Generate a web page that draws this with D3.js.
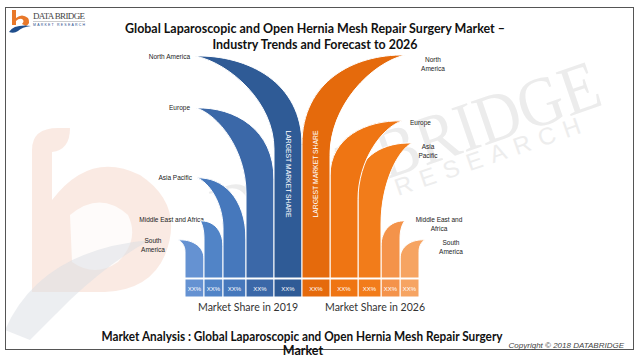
<!DOCTYPE html>
<html>
<head>
<meta charset="utf-8">
<script src="https://cdn.jsdelivr.net/npm/d3@7"></script>
<style>
  body { margin: 0; background: #fff; }
  #chart { width: 640px; height: 360px; }
</style>
</head>
<body>
<div id="chart"></div>
<script>
// Data (order: South America -> North America, bars grow toward the centre)
const regions = ["South America", "Middle East and Africa", "Asia Pacific", "Europe", "North America"];
const share2019 = ["XX%", "XX%", "XX%", "XX%", "XX%"];
const share2026 = ["XX%", "XX%", "XX%", "XX%", "XX%"];
const peak2019 = [16.7, 25, 43.9, 74.6, 97.4];
const peak2026 = [16.7, 25, 59.2, 68.9, 97.8];
const leftLabels = [["South", "America"], ["Middle East and Africa"], ["Asia Pacific"], ["Europe"], ["North America"]];
const rightLabels = [["South", "America"], ["Middle East and", "Africa"], ["Asia", "Pacific"], ["Europe"], ["North", "America"]];
const yearLabels = ["Market Share in 2019", "Market Share in 2026"];

const blues = ["#6592d2", "#5184c7", "#4678bc", "#3b68a8", "#2f5b96"];
const oranges = ["#f6a462", "#f4934a", "#f27c1a", "#ef7513", "#e56a0c"];

// layout for the curved "leaf" shapes
const colW = [19, 19, 23, 28, 28];
const centre = 302;
const blueTip = [178, 200, 197, 196, 195];
const orangeTip = [425, 405, 412, 402, 405];
const blueBend = { outer: [0.5, 0.45, 0.62, 0.42, 0.4], inner: [0.3, 0.3, 0.5, 0.5, 0.42] };
const orangeBend = { outer: [0.5, 0.45, 0.3, 0.35, 0.4], inner: [0.3, 0.3, 0.6, 0.5, 0.45] };
const leftLabelPos = [
  { dx: -25, dy: 3, anchor: "middle" },
  { dx: 4, dy: 1, anchor: "end" },
  { dx: -5, dy: 2, anchor: "end" },
  { dx: -6, dy: 2, anchor: "end" },
  { dx: -5, dy: 3, anchor: "end" }
];
const rightLabelPos = [
  { dx: 26, dy: 5, anchor: "middle" },
  { dx: 34, dy: 1, anchor: "middle" },
  { dx: 16, dy: 6, anchor: "middle" },
  { dx: 8, dy: 4, anchor: "start" },
  { dx: 28, dy: 7, anchor: "middle" }
];

const svg = d3.select("#chart").append("svg")
  .attr("width", 640)
  .attr("height", 360);

svg.append("rect").attr("width", 640).attr("height", 360).attr("fill", "#fff");

// ---- watermark ----
const wm = svg.append("g");
wm.append("path")
  .attr("d", "M32,292 L32,150 Q32,128 58,128 L70,128 Q70,150 52,152 L52,200 Q90,150 140,175 Q185,205 165,255 Q150,290 105,292 Z")
  .attr("fill", "#f3c7b5").attr("opacity", 0.38);
wm.append("path")
  .attr("d", "M70,215 Q100,190 128,215 Q140,240 118,262 Q95,278 72,262 Z")
  .attr("fill", "#fff").attr("opacity", 0.8);
wm.append("path")
  .attr("d", "M5,330 Q40,250 150,240 Q110,262 70,300 Q45,325 30,340 Z")
  .attr("fill", "#d9dde3").attr("opacity", 0.5);
wm.append("text")
  .attr("transform", "translate(222,236) rotate(-19)")
  .attr("font-family", "Liberation Serif")
  .attr("font-size", 70)
  .attr("textLength", 405)
  .attr("lengthAdjust", "spacingAndGlyphs")
  .attr("fill", "#ececec")
  .text("DATA BRIDGE");
wm.append("text")
  .attr("transform", "translate(398,196) rotate(-19)")
  .attr("font-family", "Liberation Sans")
  .attr("font-size", 24)
  .attr("textLength", 195)
  .attr("lengthAdjust", "spacing")
  .attr("fill", "#ededed")
  .text("RESEARCH");

// ---- frame ----
svg.append("rect")
  .attr("x", 5.5).attr("y", 7.5)
  .attr("width", 628).attr("height", 342)
  .attr("fill", "none")
  .attr("stroke", "#555")
  .attr("stroke-width", 1);

// ---- small logo ----
const logo = svg.append("g");
logo.append("rect").attr("x", 12).attr("y", 10).attr("width", 4).attr("height", 15).attr("fill", "#e8782a");
logo.append("path").attr("d", "M16,18 Q22,13 28,18 Q31,23 26,26 L22,24 Q25,21 22,19 Q19,18 16,21 Z").attr("fill", "#e8782a");
logo.append("path").attr("d", "M9,32 Q14,24 31,26 Q22,27 18,31 Q14,34 9,32 Z").attr("fill", "#1f4e8c");
logo.append("text")
  .attr("x", 33).attr("y", 19)
  .attr("font-family", "Liberation Serif")
  .attr("font-size", 9)
  .attr("fill", "#444")
  .attr("textLength", 52)
  .text("DATA BRIDGE");
logo.append("line").attr("x1", 33).attr("x2", 85).attr("y1", 21.5).attr("y2", 21.5).attr("stroke", "#999").attr("stroke-width", 0.5);
logo.append("text")
  .attr("x", 33).attr("y", 26)
  .attr("font-family", "Liberation Sans")
  .attr("font-size", 3.5)
  .attr("fill", "#1f4e8c")
  .attr("textLength", 52)
  .text("MARKET RESEARCH");

// ---- title ----
const title = svg.append("g")
  .attr("font-family", "Lato")
  .attr("font-weight", "bold")
  .attr("font-size", 13)
  .attr("fill", "#111")
  .attr("text-anchor", "middle");
title.append("text").attr("x", 315).attr("y", 33)
  .attr("textLength", 380).attr("lengthAdjust", "spacingAndGlyphs")
  .text("Global  Laparoscopic  and Open Hernia Mesh Repair Surgery Market \u2013");
title.append("text").attr("x", 315).attr("y", 49)
  .attr("textLength", 205).attr("lengthAdjust", "spacingAndGlyphs")
  .text("Industry Trends and Forecast to 2026");

// ---- scales ----
const y = d3.scaleLinear().domain([0, 100]).range([278, 50]);
const yb = y(0);

// column edges from centre outward
const edges = [];
let acc = 0;
for (let i = regions.length - 1; i >= 0; i--) {
  edges[i] = { inner: acc, outer: acc + colW[i] };
  acc += colW[i];
}
const blueCols = regions.map((r, i) => ({ L: centre - edges[i].outer, R: centre - edges[i].inner }));
const orangeCols = regions.map((r, i) => ({ L: centre + edges[i].inner, R: centre + edges[i].outer }));

function leafPath(near, far, tx, ty, fo, fi) {
  // near = column edge facing the centre (top edge runs from it), far = edge facing the tip
  const yo = ty + fo * (yb - ty);
  const yi = ty + fi * (yb - ty);
  const p = d3.path();
  p.moveTo(near, yb);
  p.lineTo(near, yo);
  p.bezierCurveTo(near, ty + 0.3 * (yo - ty), tx + 0.5 * (near - tx), ty - 1, tx, ty);
  p.bezierCurveTo(tx + 0.45 * (far - tx), ty + 0.08 * (yi - ty), far, ty + 0.5 * (yi - ty), far, yi);
  p.lineTo(far, yb);
  p.closePath();
  return p.toString();
}

// ---- labels (drawn under the shapes) ----
const lab = svg.append("g")
  .attr("font-family", "Liberation Sans")
  .attr("font-size", 6.5)
  .attr("fill", "#222");

regions.forEach((r, i) => {
  const lp = leftLabelPos[i];
  const t = lab.append("text")
    .attr("text-anchor", lp.anchor)
    .attr("x", blueTip[i] + lp.dx)
    .attr("y", y(peak2019[i]) + lp.dy);
  leftLabels[i].forEach((line, k) => {
    t.append("tspan").attr("x", blueTip[i] + lp.dx).attr("dy", k ? 9 : 0).text(line);
  });
  const rp = rightLabelPos[i];
  const t2 = lab.append("text")
    .attr("text-anchor", rp.anchor)
    .attr("x", orangeTip[i] + rp.dx)
    .attr("y", y(peak2026[i]) + rp.dy);
  rightLabels[i].forEach((line, k) => {
    t2.append("tspan").attr("x", orangeTip[i] + rp.dx).attr("dy", k ? 9 : 0).text(line);
  });
});

// ---- leaf shapes ----
const leaves = svg.append("g");
leaves.selectAll(".blue")
  .data(regions)
  .enter()
  .append("path")
  .attr("d", (d, i) => leafPath(blueCols[i].R, blueCols[i].L, blueTip[i], y(peak2019[i]), blueBend.outer[i], blueBend.inner[i]))
  .attr("fill", (d, i) => blues[i])
  .attr("stroke", "#fff")
  .attr("stroke-width", 1);

leaves.selectAll(".orange")
  .data(regions)
  .enter()
  .append("path")
  .attr("d", (d, i) => leafPath(orangeCols[i].L, orangeCols[i].R, orangeTip[i], y(peak2026[i]), orangeBend.outer[i], orangeBend.inner[i]))
  .attr("fill", (d, i) => oranges[i])
  .attr("stroke", "#fff")
  .attr("stroke-width", 1);

// "LARGEST MARKET SHARE" in the North America columns
const naB = blueCols[4], naO = orangeCols[4];
svg.append("text")
  .attr("transform", `translate(${(naB.L + naB.R) / 2 - 2},174) rotate(90)`)
  .attr("text-anchor", "middle")
  .attr("font-family", "Liberation Sans")
  .attr("font-size", 6.5)
  .attr("fill", "#fff")
  .attr("textLength", 87)
  .attr("lengthAdjust", "spacingAndGlyphs")
  .text("LARGEST MARKET SHARE");
svg.append("text")
  .attr("transform", `translate(${(naO.L + naO.R) / 2 + 2},174) rotate(-90)`)
  .attr("text-anchor", "middle")
  .attr("font-family", "Liberation Sans")
  .attr("font-size", 6.5)
  .attr("fill", "#fff")
  .attr("textLength", 87)
  .attr("lengthAdjust", "spacingAndGlyphs")
  .text("LARGEST MARKET SHARE");

// ---- share boxes ----
const boxTop = yb + 1, boxH = 18;
const boxes = svg.append("g").attr("font-family", "Liberation Sans").attr("font-size", 6);
regions.forEach((r, i) => {
  [[blueCols[i], blues[i], share2019[i]], [orangeCols[i], oranges[i], share2026[i]]].forEach(([c, col, s]) => {
    boxes.append("rect")
      .attr("x", c.L).attr("y", boxTop)
      .attr("width", c.R - c.L).attr("height", boxH)
      .attr("fill", col)
      .attr("stroke", "#fff")
      .attr("stroke-width", 1);
    boxes.append("text")
      .attr("x", (c.L + c.R) / 2).attr("y", boxTop + 12)
      .attr("text-anchor", "middle")
      .attr("fill", "#fff")
      .text(s);
  });
});

// year captions
svg.append("g")
  .attr("font-family", "Lato")
  .attr("font-size", 12)
  .attr("fill", "#333")
  .attr("text-anchor", "middle")
  .selectAll("text")
  .data(yearLabels)
  .enter()
  .append("text")
  .attr("x", (d, i) => (i ? 375 : 248))
  .attr("y", 311)
  .attr("textLength", 100)
  .attr("lengthAdjust", "spacingAndGlyphs")
  .text((d) => d);

// ---- footer ----
const foot = svg.append("g")
  .attr("font-family", "Lato")
  .attr("font-weight", "bold")
  .attr("font-size", 12.5)
  .attr("fill", "#111")
  .attr("text-anchor", "middle");
foot.append("text").attr("x", 302).attr("y", 341)
  .attr("textLength", 401).attr("lengthAdjust", "spacingAndGlyphs")
  .text("Market Analysis  : Global  Laparoscopic  and Open Hernia Mesh Repair Surgery");
foot.append("text").attr("x", 303).attr("y", 355).text("Market");

svg.append("text")
  .attr("x", 624).attr("y", 348)
  .attr("text-anchor", "end")
  .attr("font-family", "Liberation Sans")
  .attr("font-style", "italic")
  .attr("font-size", 8)
  .attr("fill", "#444")
  .text("Copyright \u00a9 2018  DATABRIDGE");
</script>
</body>
</html>
